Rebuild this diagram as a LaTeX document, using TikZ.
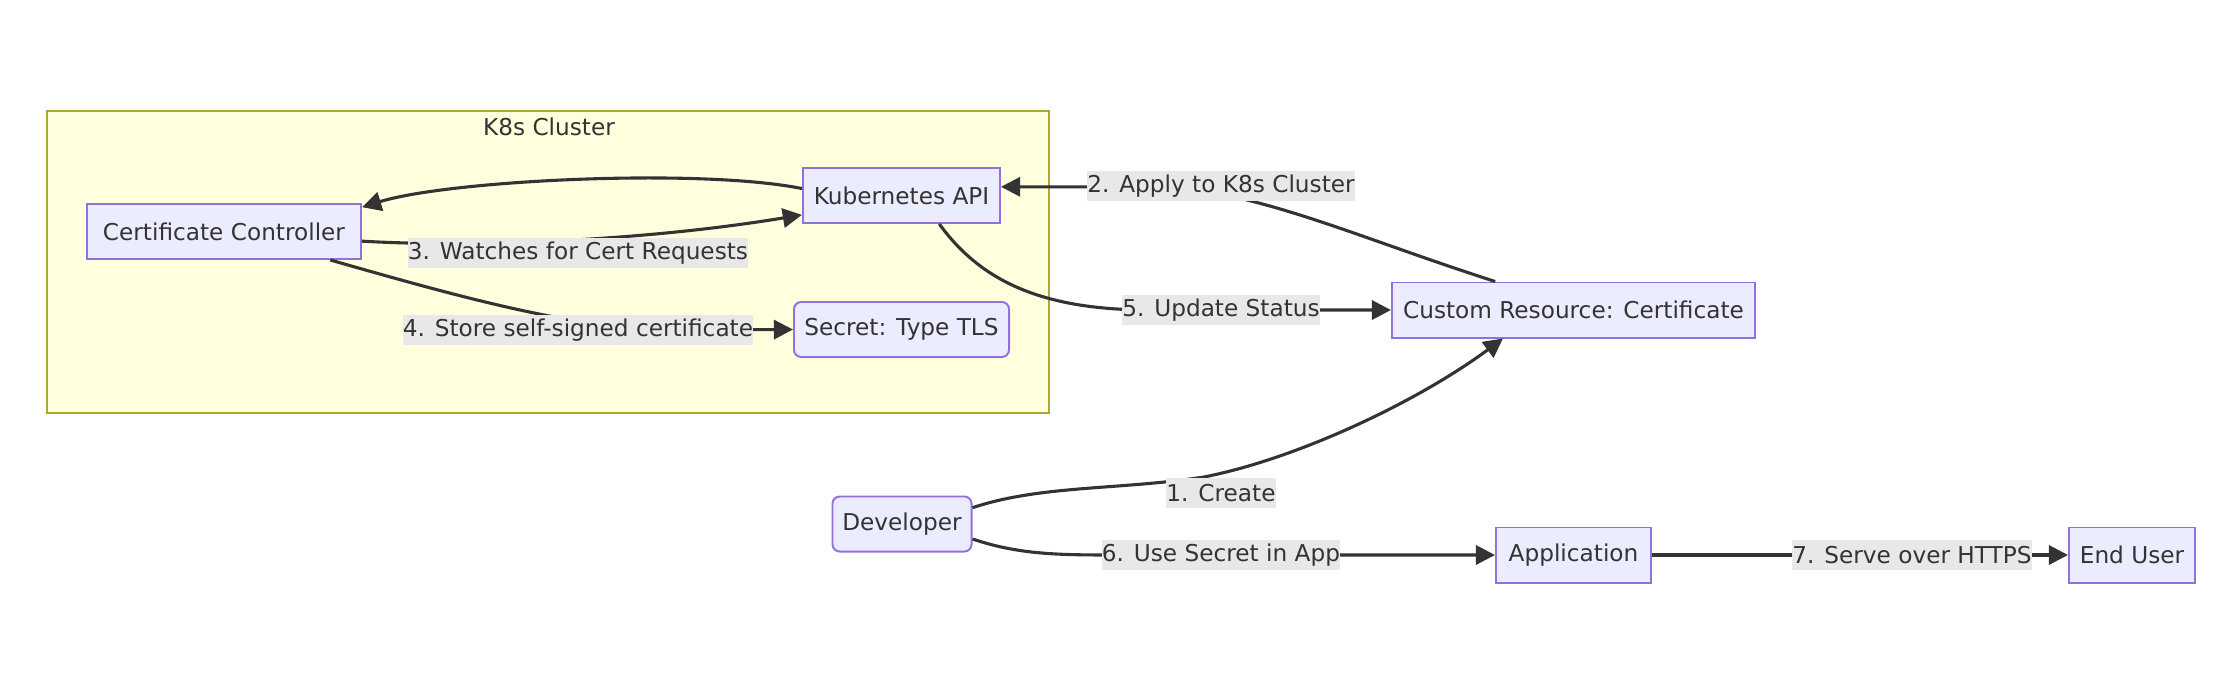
\documentclass[tikz,border=0pt]{standalone}
\usepackage{fontspec}
\setmainfont{DejaVu Sans}
\usepackage{xcolor}
\usepackage{tikz}
\usetikzlibrary{arrows.meta,shapes}
\definecolor{boxfill}{HTML}{ECECFF}
\definecolor{boxline}{HTML}{9370DB}
\definecolor{clusterfill}{HTML}{FFFFDE}
\definecolor{clusterline}{HTML}{AAAA33}
\definecolor{edgegray}{HTML}{333333}
\definecolor{labelgray}{HTML}{E8E8E8}

\begin{document}
\begin{tikzpicture}[x=0.025cm,y=-0.025cm,font=\fontsize{16.5}{19}\selectfont,text=edgegray,
box/.style={draw=boxline,fill=boxfill,line width=1.4pt,minimum height=1.375cm,inner xsep=0.2cm},
rbox/.style={box,rounded corners=0.18cm},
cluster/.style={draw=clusterline,fill=clusterfill,line width=1.4pt,minimum width=25.05cm,minimum height=7.55cm},
lbl/.style={fill=labelgray,inner xsep=0pt,inner ysep=0pt,minimum height=0.75cm},
flow/.style={draw=edgegray,line width=2.2pt,-{Triangle[length=0.48cm,width=0.48cm]}}]
\useasboundingbox(0,0)rectangle(2226,686);
\node[cluster](k8s)at(548,262){};
\node(k8stitle)at(549,127){K8s Cluster};
\node[box,minimum width=6.85cm](ctrl)at(224,231.5){Certificate Controller};
\node[box,minimum width=4.925cm](api)at(901.5,195.5){Kubernetes API};
\node[rbox,minimum width=5.375cm](secret)at(901.5,329.5){Secret: Type TLS};
\node[box,minimum width=9.075cm](cr)at(1573.5,310){Custom Resource: Certificate};
\node[rbox,minimum width=3.475cm](dev)at(902,524){Developer};
\node[box,minimum width=3.875cm](app)at(1573.5,555){Application};
\node[box,minimum width=3.15cm](user)at(2132,555){End User};
% connectors
\draw[flow](dev.13)..controls(1040,485)and(1120,490)..(1204,477)
  ..controls(1300,458)and(1420,400)..(cr.202);
\draw[flow](cr.160)..controls(1350,235)and(1250,187)..(1150,187)--(api.5);
\draw[flow](ctrl.-4)..controls(480,248)and(650,240)..(api.191);
\draw[flow](ctrl.-15.5)..controls(470,300)and(580,330)..(680,330)--(secret.west);
\draw[flow](api.176)..controls(700,168)and(450,180)..(ctrl.10);
\draw[flow](api.-37)..controls(980,280)and(1040,310)..(1150,310)--(cr.west);
\draw[flow](dev.-12)..controls(1020,555)and(1060,555)..(1120,555)--(app.west);
\draw[flow](app.east)--(user.west);
% labels
\node[lbl](l1)at(1221,493){1. Create};
\node[lbl](l2)at(1221,186){2. Apply to K8s Cluster};
\node[lbl](l3)at(578,253){3. Watches for Cert Requests};
\node[lbl](l4)at(578,330){4. Store self-signed certificate};
\node[lbl](l5)at(1221,310){5. Update Status};
\node[lbl](l6)at(1221,555){6. Use Secret in App};
\node[lbl](l7)at(1912,555){7. Serve over HTTPS};
\end{tikzpicture}
\end{document}
